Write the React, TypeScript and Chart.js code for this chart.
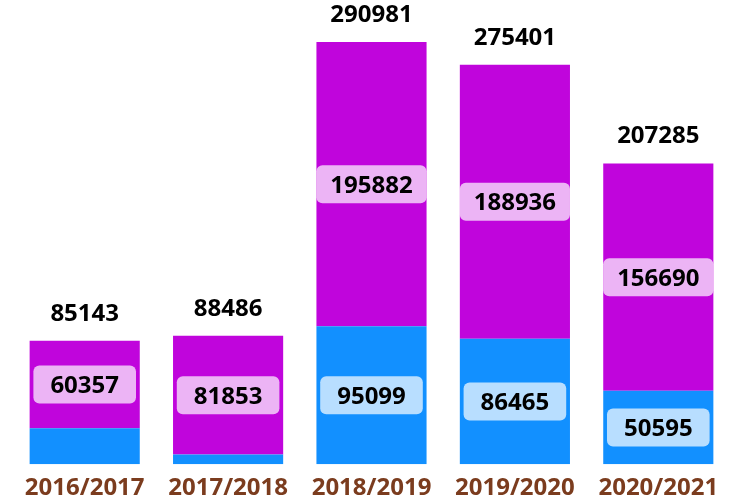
import React, { useEffect, useRef } from "react";
import { Chart, registerables } from "chart.js";

Chart.register(...registerables);

const categories = ["2016/2017", "2017/2018", "2018/2019", "2019/2020", "2020/2021"];
const blueValues = [24786, 6633, 95099, 86465, 50595];
const purpleValues = [60357, 81853, 195882, 188936, 156690];
const totals = [85143, 88486, 290981, 275401, 207285];

const FONT = '"Open Sans", "Noto Sans", sans-serif';

const labelPlugin = {
  id: "segmentLabels",
  afterDatasetsDraw(chart: any) {
    const ctx = chart.ctx as CanvasRenderingContext2D;
    ctx.save();
    ctx.font = `bold 24px ${FONT}`;
    ctx.textAlign = "center";
    ctx.textBaseline = "alphabetic";
    const capHalf = 24 * 0.714 / 2;
    chart.data.datasets.forEach((ds: any, di: number) => {
      const meta = chart.getDatasetMeta(di);
      meta.data.forEach((bar: any, i: number) => {
        const v = ds.data[i] as number;
        const top = Math.min(bar.y, bar.base);
        const bottom = Math.max(bar.y, bar.base);
        if (bottom - top < 44) return;
        const cx = bar.x;
        const cy = (top + bottom) / 2;
        const text = String(v);
        const tw = ctx.measureText(text).width;
        const w = Math.min(tw + 34, bar.width);
        const h = 38;
        ctx.fillStyle = "rgba(255,255,255,0.7)";
        ctx.beginPath();
        (ctx as any).roundRect(cx - w / 2, cy - h / 2, w, h, 6);
        ctx.fill();
        ctx.fillStyle = "#000000";
        ctx.fillText(text, cx, cy + capHalf);
      });
    });
    const lastMeta = chart.getDatasetMeta(chart.data.datasets.length - 1);
    lastMeta.data.forEach((bar: any, i: number) => {
      ctx.fillStyle = "#000000";
      ctx.fillText(String(totals[i]), bar.x, bar.y - 20);
    });
    ctx.restore();
  },
};

export default function App() {
  const ref = useRef<HTMLCanvasElement | null>(null);
  useEffect(() => {
    if (!ref.current) return;
    const chart = new Chart(ref.current, {
      type: "bar",
      data: {
        labels: categories,
        datasets: [
          { label: "A", data: blueValues, backgroundColor: "#1290FF", borderWidth: 0 },
          { label: "B", data: purpleValues, backgroundColor: "#C005DC", borderWidth: 0 },
        ],
      },
      options: {
        animation: false,
        responsive: false,
        devicePixelRatio: 1,
        layout: { padding: { top: 29, left: 13, right: 15, bottom: 0 } },
        datasets: { bar: { barPercentage: 0.768, categoryPercentage: 1 } },
        plugins: { legend: { display: false }, tooltip: { enabled: false } },
        scales: {
          x: {
            stacked: true,
            grid: { display: false, drawTicks: false },
            border: { display: false },
            ticks: {
              color: "rgb(123,60,30)",
              font: { family: FONT, size: 24, weight: "bold" },
              padding: 10,
            },
          },
          y: {
            stacked: true,
            display: false,
            min: 0,
            max: 300000,
          },
        },
      },
      plugins: [labelPlugin],
    } as any);
    return () => chart.destroy();
  }, []);
  return (
    <div style={{ position: "fixed", left: 0, top: 0, width: 745, height: 502, overflow: "hidden", background: "#fff" }}>
      <canvas ref={ref} width={745} height={513} style={{ width: 745, height: 513, display: "block" }} />
    </div>
  );
}
